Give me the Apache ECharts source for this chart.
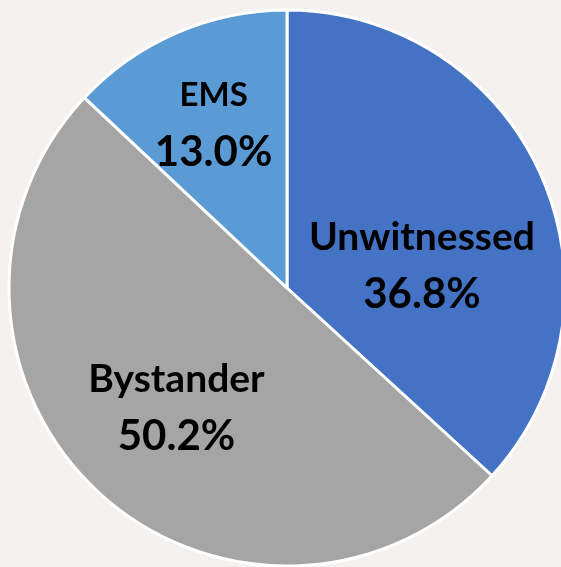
<!DOCTYPE html>
<html>
<head>
<meta charset="utf-8" />
<script src="https://cdn.jsdelivr.net/npm/echarts@6/dist/echarts.min.js"></script>
<style>
  html, body { margin: 0; padding: 0; background: #f4f1f0; }
  #chart { width: 561px; height: 567px; }
</style>
</head>
<body>
<div id="chart"></div>
<script type="text/javascript">
// slice names and shares (percent), clockwise from 12 o'clock
var categories = ['Unwitnessed', 'Bystander', 'EMS'];
var shares = [36.8, 50.2, 13.0];

var colors = ['#4472c4', '#a5a5a5', '#5b9bd5'];
// label nudges from the default 'inside' spot
var labelShift = [[5, 35], [-14, 16], [-17, -34]];
var nameSize = [39, 39, 33];

var myChart = echarts.init(document.getElementById('chart'));

var data = categories.map(function (name, i) {
    return {
        name: name,
        value: shares[i],
        itemStyle: { color: colors[i] },
        label: {
            offset: labelShift[i],
            rich: {
                n: { fontSize: nameSize[i], fontWeight: 'bold', fontFamily: 'Lato', color: '#000', lineHeight: 57 },
                p: { fontSize: 42, fontWeight: 'bold', fontFamily: 'Lato', color: '#000', lineHeight: 57 }
            }
        }
    };
});

var option = {
    backgroundColor: '#f4f1f0',
    animation: false,
    series: [
        {
            type: 'pie',
            center: [287, 288],
            radius: 278,
            startAngle: 90,
            clockwise: true,
            data: data,
            itemStyle: { borderColor: '#ffffff', borderWidth: 3 },
            label: {
                show: true,
                position: 'inside',
                formatter: function (p) {
                    return '{n|' + p.name + '}\n{p|' + p.value.toFixed(1) + '%}';
                }
            },
            labelLine: { show: false },
            emphasis: { disabled: true }
        }
    ]
};
myChart.setOption(option);
</script>
</body>
</html>
